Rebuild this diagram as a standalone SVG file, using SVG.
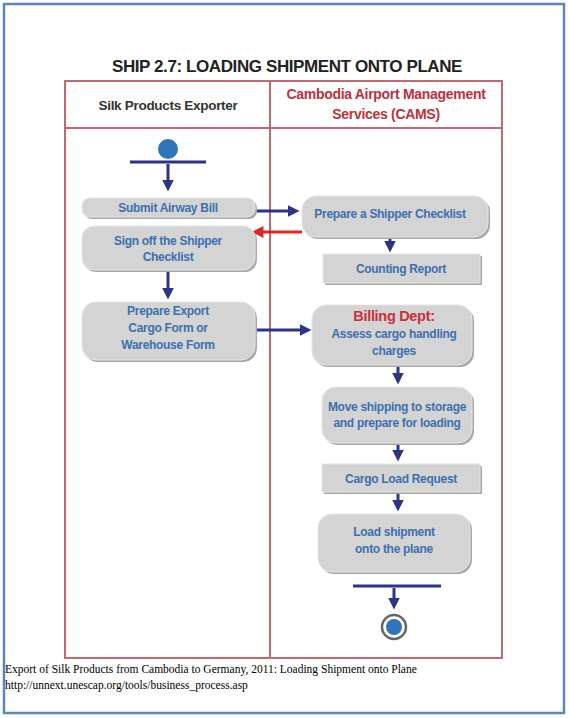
<svg xmlns="http://www.w3.org/2000/svg" width="569" height="718" viewBox="0 0 569 718">
<style>
.frame{fill:#fff;stroke:#5a86c0;stroke-width:2.5}
.lane{fill:none;stroke:#c06a74;stroke-width:2}
.title{font-family:"Liberation Sans",Arial,sans-serif;font-weight:bold;font-size:17px;fill:#222;text-anchor:middle;letter-spacing:-0.4px}
.hdr{font-family:"Liberation Sans",Arial,sans-serif;font-weight:bold;font-size:13.5px;fill:#333;text-anchor:middle;letter-spacing:-0.3px}
.hdrr{font-family:"Liberation Sans",Arial,sans-serif;font-weight:bold;font-size:14px;fill:#c0303a;text-anchor:middle;letter-spacing:-0.3px}
.box{fill:#d4d4d4;stroke:#e6e6e6;stroke-width:1}
.shadow{fill:#a8a8a8}
.t{font-family:"Liberation Sans",Arial,sans-serif;font-weight:bold;font-size:12px;fill:#3d6fae;text-anchor:middle;letter-spacing:-0.3px}
.tr{font-family:"Liberation Sans",Arial,sans-serif;font-weight:bold;font-size:14.5px;fill:#c8303a;text-anchor:middle;letter-spacing:-0.3px}
.flow{stroke:#2b3486;stroke-width:3;fill:none}
.back{stroke:#e02828;stroke-width:3;fill:none}
.cap{font-family:"Liberation Serif","Times New Roman",serif;font-size:11.5px;fill:#000}
</style>
<defs>
<marker id="ah" markerWidth="4" markerHeight="4" refX="2.5" refY="2" orient="auto" markerUnits="strokeWidth">
<path d="M0,0 L4,2 L0,4 z" fill="#2b3486"/>
</marker>
<marker id="ahr" markerWidth="4" markerHeight="4" refX="2.5" refY="2" orient="auto" markerUnits="strokeWidth">
<path d="M0,0 L4,2 L0,4 z" fill="#e02828"/>
</marker>
</defs>
<rect class="frame" x="4" y="4" width="560" height="709"/>
<text class="title" x="287" y="72">SHIP 2.7: LOADING SHIPMENT ONTO PLANE</text>
<g id="lanes">
<rect class="lane" x="65" y="81" width="437" height="577"/>
<line class="lane" x1="270" y1="81" x2="270" y2="658"/>
<line class="lane" x1="65" y1="128" x2="502" y2="128"/>
<text class="hdr" x="168" y="110">Silk Products Exporter</text>
<text class="hdrr" x="386" y="99">Cambodia Airport Management</text>
<text class="hdrr" x="386" y="119">Services (CAMS)</text>
</g>
<g id="connectors">
<line class="flow" x1="130" y1="162" x2="206" y2="162"/>
<line class="flow" x1="168" y1="164" x2="168" y2="187" marker-end="url(#ah)"/>
<line class="flow" x1="255" y1="211" x2="295" y2="211" marker-end="url(#ah)"/>
<line class="back" x1="302" y1="232" x2="256" y2="232" marker-end="url(#ahr)"/>
<line class="flow" x1="390" y1="238" x2="390" y2="248" marker-end="url(#ah)"/>
<line class="flow" x1="168" y1="272" x2="168" y2="295" marker-end="url(#ah)"/>
<line class="flow" x1="255" y1="330" x2="307" y2="330" marker-end="url(#ah)"/>
<line class="flow" x1="398" y1="366" x2="398" y2="380" marker-end="url(#ah)"/>
<line class="flow" x1="398" y1="445" x2="398" y2="457" marker-end="url(#ah)"/>
<line class="flow" x1="398" y1="494" x2="398" y2="507" marker-end="url(#ah)"/>
<line class="flow" x1="353" y1="586" x2="441" y2="586"/>
<line class="flow" x1="394" y1="588" x2="394" y2="605" marker-end="url(#ah)"/>
</g>
<g id="start">
<circle cx="168" cy="149" r="10" fill="#2f75bb"/>
</g>
<g id="submit">
<rect class="shadow" x="84" y="200" width="173" height="19" rx="8"/>
<rect class="box" x="82" y="198" width="173" height="19" rx="8"/>
<text class="t" x="168" y="212">Submit Airway Bill</text>
</g>
<g id="prepare-checklist">
<rect class="shadow" x="304" y="198" width="186" height="41" rx="14"/>
<rect class="box" x="302" y="196" width="186" height="41" rx="14"/>
<text class="t" x="390" y="218">Prepare a Shipper Checklist</text>
</g>
<g id="sign-off">
<rect class="shadow" x="84" y="228" width="173" height="44" rx="12"/>
<rect class="box" x="82" y="226" width="173" height="44" rx="12"/>
<text class="t" x="168" y="245">Sign off the Shipper</text>
<text class="t" x="168" y="261">Checklist</text>
</g>
<g id="counting">
<rect class="shadow" x="325" y="256" width="157" height="29"/>
<rect class="box" x="323" y="254" width="157" height="29"/>
<text class="t" x="401" y="273">Counting Report</text>
</g>
<g id="export-form">
<rect class="shadow" x="84" y="304" width="173" height="58" rx="14"/>
<rect class="box" x="82" y="302" width="173" height="58" rx="14"/>
<text class="t" x="168" y="315">Prepare Export</text>
<text class="t" x="168" y="332">Cargo Form or</text>
<text class="t" x="168" y="349">Warehouse Form</text>
</g>
<g id="billing">
<rect class="shadow" x="314" y="307" width="160" height="60" rx="14"/>
<rect class="box" x="312" y="305" width="160" height="60" rx="14"/>
<text class="tr" x="394" y="321">Billing Dept:</text>
<text class="t" x="394" y="338">Assess cargo handling</text>
<text class="t" x="394" y="355">charges</text>
</g>
<g id="move">
<rect class="shadow" x="324" y="389" width="150" height="56" rx="14"/>
<rect class="box" x="322" y="387" width="150" height="56" rx="14"/>
<text class="t" x="397" y="411">Move shipping to storage</text>
<text class="t" x="397" y="427">and prepare for loading</text>
</g>
<g id="cargo-request">
<rect class="shadow" x="324" y="466" width="158" height="28"/>
<rect class="box" x="322" y="464" width="158" height="28"/>
<text class="t" x="401" y="483">Cargo Load Request</text>
</g>
<g id="load">
<rect class="shadow" x="320" y="516" width="152" height="58" rx="14"/>
<rect class="box" x="318" y="514" width="152" height="58" rx="14"/>
<text class="t" x="394" y="536">Load shipment</text>
<text class="t" x="394" y="553">onto the plane</text>
</g>
<g id="end">
<circle cx="394" cy="627" r="12" fill="#fff" stroke="#666" stroke-width="2.5"/>
<circle cx="394" cy="627" r="8" fill="#2f75bb"/>
</g>
<text class="cap" x="5" y="673">Export of Silk Products from Cambodia to Germany, 2011: Loading Shipment onto Plane</text>
<text class="cap" x="5" y="689">http://unnext.unescap.org/tools/business_process.asp</text>
</svg>
